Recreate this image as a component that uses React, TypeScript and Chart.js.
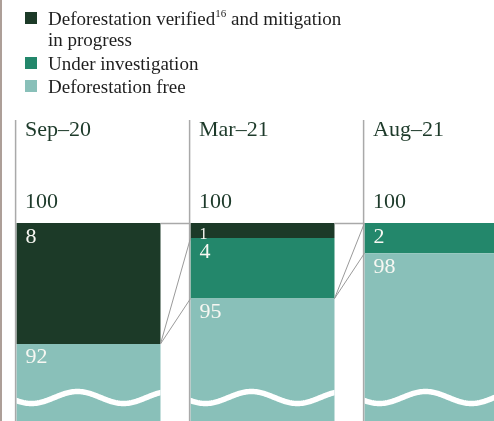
import React, { useEffect, useRef } from "react";
import { Chart, registerables } from "chart.js";

Chart.register(...registerables);

// ---- data ----
const categories = ["Sep–20", "Mar–21", "Aug–21"];
const deforestationFree = [92, 95, 98];
const underInvestigation = [0, 4, 2];
const verifiedMitigation = [8, 1, 0];
const legendVerified = ["Deforestation verified", "16", " and mitigation", "in progress"];
const legendUnder = "Under investigation";
const legendFree = "Deforestation free";
const axisTop = 100;
const axisBottom = 86.9;

// ---- styles ----
const COLOR_VERIFIED = "#1c3a28";
const COLOR_UNDER = "#23876b";
const COLOR_FREE = "#89c0b9";
const TEXT_DARK = "#1d3a2a";
const SERIF = '"Liberation Serif", "Times New Roman", serif';

const decorPlugin = {
  id: "decor",
  beforeDraw(chart: any) {
    const ctx = chart.ctx;
    ctx.save();
    ctx.fillStyle = "#ffffff";
    ctx.fillRect(0, 0, chart.width, chart.height);
    ctx.fillStyle = "#ad9f98";
    ctx.fillRect(0, 0, 2, chart.height);
    ctx.restore();
  },
  afterDatasetsDraw(chart: any) {
    const ctx = chart.ctx;
    const yS = chart.scales.y;
    const area = chart.chartArea;
    const meta0 = chart.getDatasetMeta(0);
    const bars = categories.map((_, i) => {
      const p = meta0.data[i].getProps(["x", "width"], true);
      return { left: p.x - p.width / 2, right: p.x + p.width / 2 };
    });

    // wavy "axis break" lines
    bars.forEach((b) => {
      ctx.save();
      ctx.beginPath();
      ctx.rect(b.left, area.top, b.right - b.left, area.bottom - area.top);
      ctx.clip();
      ctx.beginPath();
      const cy = area.bottom - 23.5;
      for (let x = b.left - 6; x <= b.right + 6; x += 1) {
        const y = cy + 6 * Math.cos((2 * Math.PI * (x - b.left - 15)) / 92);
        if (x === b.left - 6) ctx.moveTo(x, y);
        else ctx.lineTo(x, y);
      }
      ctx.strokeStyle = "#ffffff";
      ctx.lineWidth = 5.5;
      ctx.stroke();
      ctx.restore();
    });

    ctx.save();
    // vertical lines at left of each bar
    ctx.strokeStyle = "#a9a9a9";
    ctx.lineWidth = 1.5;
    bars.forEach((b) => {
      ctx.beginPath();
      ctx.moveTo(b.left - 0.9, 120);
      ctx.lineTo(b.left - 0.9, area.bottom);
      ctx.stroke();
    });
    // horizontal lines at total
    const yTop = yS.getPixelForValue(axisTop);
    for (let i = 0; i < bars.length - 1; i++) {
      ctx.beginPath();
      ctx.moveTo(bars[i].right, yTop + 0.5);
      ctx.lineTo(bars[i + 1].left, yTop + 0.5);
      ctx.stroke();
    }
    // connector lines
    ctx.strokeStyle = "#9a9a9a";
    ctx.lineWidth = 1;
    for (let i = 0; i < bars.length - 1; i++) {
      const y0 = yS.getPixelForValue(deforestationFree[i]);
      const y1 = yS.getPixelForValue(deforestationFree[i + 1]);
      const y2 = yS.getPixelForValue(deforestationFree[i + 1] + underInvestigation[i + 1]);
      ctx.beginPath();
      ctx.moveTo(bars[i].right, y0);
      ctx.lineTo(bars[i + 1].left, y1);
      ctx.moveTo(bars[i].right, y0);
      ctx.lineTo(bars[i + 1].left, y2);
      ctx.stroke();
    }

    // category labels and totals
    ctx.fillStyle = TEXT_DARK;
    ctx.textAlign = "left";
    ctx.textBaseline = "alphabetic";
    ctx.font = `22px ${SERIF}`;
    bars.forEach((b, i) => {
      ctx.fillText(categories[i], b.left + 8.5, 136);
      const total = deforestationFree[i] + underInvestigation[i] + verifiedMitigation[i];
      ctx.fillText(String(total), b.left + 8.5, yTop - 15);
    });

    // value labels
    ctx.fillStyle = "#f7f7f2";
    const series = [deforestationFree, underInvestigation, verifiedMitigation];
    bars.forEach((b, i) => {
      let base = 0;
      series.forEach((s) => {
        const v = s[i];
        const top = base + v;
        base = top;
        if (v <= 0) return;
        const segTop = yS.getPixelForValue(top);
        const segBot = yS.getPixelForValue(top - v);
        const small = segBot - segTop < 25;
        ctx.font = `${small ? 16 : 22}px ${SERIF}`;
        ctx.fillText(String(v), b.left + 9, segTop + (small ? 15.5 : 19.5));
      });
    });
    ctx.restore();
  },
};

export default function App() {
  const ref = useRef<HTMLCanvasElement | null>(null);
  useEffect(() => {
    if (!ref.current) return;
    const chart = new Chart(ref.current, {
      type: "bar",
      data: {
        labels: categories,
        datasets: [
          { label: legendFree, data: deforestationFree, backgroundColor: COLOR_FREE, borderWidth: 0 },
          { label: legendUnder, data: underInvestigation, backgroundColor: COLOR_UNDER, borderWidth: 0 },
          { label: legendVerified.join(""), data: verifiedMitigation, backgroundColor: COLOR_VERIFIED, borderWidth: 0 },
        ],
      },
      options: {
        responsive: false,
        animation: false,
        devicePixelRatio: 1,
        layout: { padding: { left: 1.5, right: 6.5, top: 223, bottom: 0 } },
        datasets: { bar: { categoryPercentage: 1, barPercentage: 144 / 174 } },
        scales: {
          x: { stacked: true, display: false },
          y: { stacked: true, display: false, min: axisBottom, max: axisTop },
        },
        plugins: { legend: { display: false }, tooltip: { enabled: false } },
      },
      plugins: [decorPlugin],
    });
    return () => chart.destroy();
  }, []);

  const textStyle: React.CSSProperties = {
    position: "absolute",
    left: 48,
    fontFamily: SERIF,
    fontSize: 19,
    lineHeight: "21px",
    color: "#1e1e1e",
    whiteSpace: "nowrap",
  };
  const marker = (top: number, color: string): React.CSSProperties => ({
    position: "absolute",
    left: 25,
    top,
    width: 12,
    height: 12,
    background: color,
  });

  return (
    <div style={{ position: "absolute", left: 0, top: 0, width: 494, height: 421, overflow: "hidden", background: "#fff" }}>
      <canvas ref={ref} width={530} height={421} style={{ position: "absolute", left: 0, top: 0, width: 530, height: 421 }} />
      <div style={marker(12, COLOR_VERIFIED)} />
      <div style={{ ...textStyle, top: 8 }}>
        {legendVerified[0]}
        <sup style={{ fontSize: 11, lineHeight: 0, position: "relative", top: -1, verticalAlign: "super" }}>{legendVerified[1]}</sup>
        {legendVerified[2]}
        <br />
        {legendVerified[3]}
      </div>
      <div style={marker(56.5, COLOR_UNDER)} />
      <div style={{ ...textStyle, top: 52.5 }}>{legendUnder}</div>
      <div style={marker(79.5, COLOR_FREE)} />
      <div style={{ ...textStyle, top: 75.5 }}>{legendFree}</div>
    </div>
  );
}
